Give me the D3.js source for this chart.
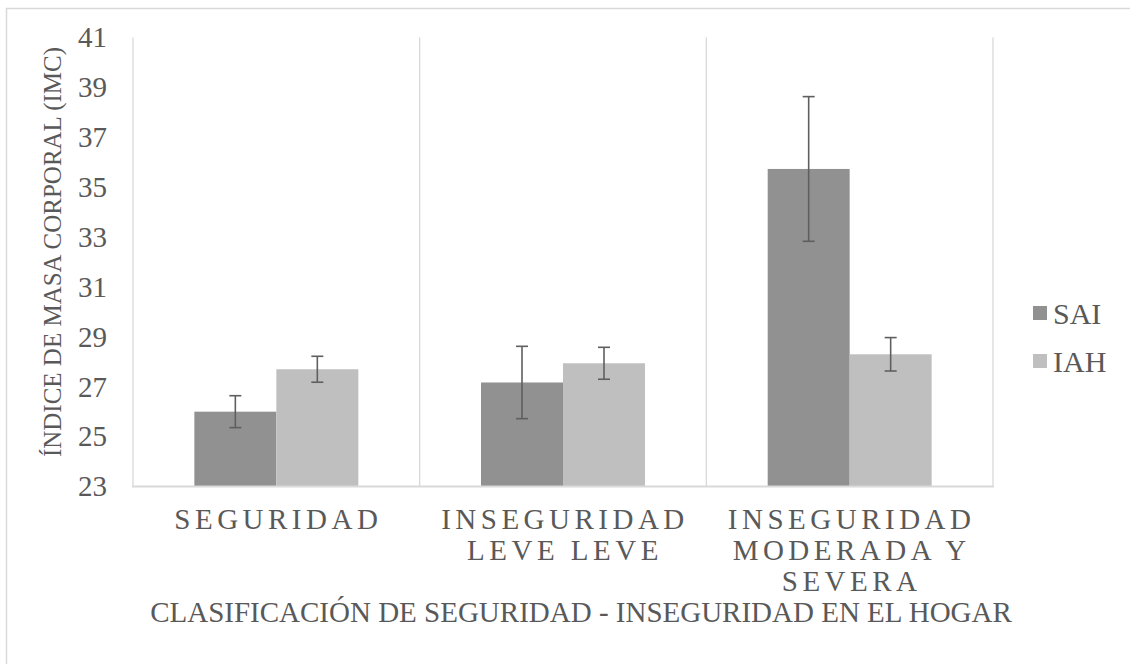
<!DOCTYPE html>
<html lang="es">
<head>
<meta charset="utf-8">
<script src="https://cdn.jsdelivr.net/npm/d3@7"></script>
<style>
  html, body { margin: 0; padding: 0; background: #ffffff; }
  svg { display: block; }
  svg text { font-family: "Liberation Serif", "DejaVu Serif", "Times New Roman", serif; }
</style>
</head>
<body>
<svg id="chart" width="1130" height="664"></svg>
<script>
// Household food security classification vs. body mass index
const categories = ["SEGURIDAD", "INSEGURIDAD LEVE LEVE", "INSEGURIDAD MODERADA Y SEVERA"];
const categoryLines = [["SEGURIDAD"], ["INSEGURIDAD", "LEVE LEVE"], ["INSEGURIDAD", "MODERADA Y", "SEVERA"]];
const seriesNames = ["SAI", "IAH"];
const saiValues = [26.0, 27.17, 35.73];
const saiErrors = [0.64, 1.45, 2.9];
const iahValues = [27.7, 27.94, 28.3];
const iahErrors = [0.52, 0.64, 0.67];
const yTicks = [23, 25, 27, 29, 31, 33, 35, 37, 39, 41];
const yTitle = "ÍNDICE DE MASA CORPORAL (IMC)";
const xTitle = "CLASIFICACIÓN DE SEGURIDAD - INSEGURIDAD EN EL HOGAR";

const colors = { SAI: "#919191", IAH: "#bfbfbf" };
const textColor = "#595959";
const lineColor = "#d9d9d9";
const serif = '"Liberation Serif", "DejaVu Serif", "Times New Roman", serif';

const svg = d3.select("#chart");

// Outer chart frame
svg.append("rect")
  .attr("x", 6.5).attr("y", 8.5)
  .attr("width", 1140).attr("height", 680)
  .attr("fill", "none").attr("stroke", lineColor).attr("stroke-width", 1.5);

const plot = { left: 133, right: 993, top: 37.5, bottom: 486.5 };

const y = d3.scaleLinear().domain([23, 41]).range([plot.bottom, plot.top]);

const inner = 0.428;
const x0 = d3.scaleBand().domain(categories)
  .range([plot.left, plot.right])
  .paddingInner(inner).paddingOuter(inner / 2);
const x1 = d3.scaleBand().domain(seriesNames).range([0, x0.bandwidth()]);

const rows = categories.map((c, i) => ({
  category: c,
  bars: [
    { series: "SAI", value: saiValues[i], err: saiErrors[i] },
    { series: "IAH", value: iahValues[i], err: iahErrors[i] }
  ]
}));

// Category separators (vertical gridlines at band boundaries)
const step = x0.step();
const boundaries = categories.map(c => x0(c) - step * inner / 2);
boundaries.push(plot.right);
svg.append("g").selectAll("line").data(boundaries).join("line")
  .attr("x1", d => d).attr("x2", d => d)
  .attr("y1", plot.top).attr("y2", plot.bottom)
  .attr("stroke", lineColor).attr("stroke-width", 1.3);

// Bars
const groups = svg.append("g").selectAll("g").data(rows).join("g")
  .attr("transform", d => `translate(${x0(d.category)},0)`);

groups.selectAll("rect").data(d => d.bars).join("rect")
  .attr("x", d => x1(d.series))
  .attr("y", d => y(d.value))
  .attr("width", x1.bandwidth())
  .attr("height", d => y(23) - y(d.value))
  .attr("fill", d => colors[d.series]);

// Error bars
const errG = groups.selectAll("g.err").data(d => d.bars).join("g").attr("class", "err");
const cx = d => x1(d.series) + x1.bandwidth() / 2;
errG.append("line")
  .attr("x1", cx).attr("x2", cx)
  .attr("y1", d => y(d.value + d.err)).attr("y2", d => y(d.value - d.err))
  .attr("stroke", "#5f5f5f").attr("stroke-width", 1.6);
errG.append("line")
  .attr("x1", d => cx(d) - 6).attr("x2", d => cx(d) + 6)
  .attr("y1", d => y(d.value + d.err)).attr("y2", d => y(d.value + d.err))
  .attr("stroke", "#5f5f5f").attr("stroke-width", 1.6);
errG.append("line")
  .attr("x1", d => cx(d) - 6).attr("x2", d => cx(d) + 6)
  .attr("y1", d => y(d.value - d.err)).attr("y2", d => y(d.value - d.err))
  .attr("stroke", "#5f5f5f").attr("stroke-width", 1.6);

// Horizontal category axis line
svg.append("line")
  .attr("x1", plot.left - 1).attr("x2", plot.right + 1)
  .attr("y1", plot.bottom).attr("y2", plot.bottom)
  .attr("stroke", lineColor).attr("stroke-width", 2);

// Value axis labels
const yAxis = d3.axisLeft(y).tickValues(yTicks).tickSize(0).tickPadding(0).tickFormat(d3.format("d"));
const yAxisG = svg.append("g").attr("transform", "translate(107,0)").call(yAxis)
  .attr("font-family", serif).attr("font-size", 29);
yAxisG.select(".domain").remove();
yAxisG.selectAll("text")
  .attr("fill", textColor)
  .style("font-size", "29px");

// Category labels
const catLabels = svg.append("g").selectAll("text").data(rows).join("text")
  .attr("text-anchor", "middle")
  .attr("fill", textColor)
  .style("font-size", "29px")
  .style("letter-spacing", "4.5px");
catLabels.each(function (d, i) {
  const t = d3.select(this);
  const xc = x0(d.category) + x0.bandwidth() / 2 + 2;
  categoryLines[i].forEach((line, j) => {
    t.append("tspan").attr("x", xc).attr("y", 529 + j * 31).text(line);
  });
});

// Axis titles
svg.append("text")
  .attr("x", 581).attr("y", 622)
  .attr("text-anchor", "middle")
  .attr("fill", textColor)
  .style("font-size", "29px")
  .text(xTitle);

svg.append("text")
  .attr("transform", "translate(61,252) rotate(-90)")
  .attr("text-anchor", "middle")
  .attr("fill", textColor)
  .style("font-size", "25px")
  .text(yTitle);

// Legend
const legend = svg.append("g").selectAll("g").data(seriesNames).join("g")
  .attr("transform", (d, i) => `translate(1033,${306 + i * 48})`);
legend.append("rect").attr("width", 14).attr("height", 14).attr("fill", d => colors[d]);
legend.append("text")
  .attr("x", 20).attr("y", 7).attr("dy", "0.35em")
  .attr("fill", textColor)
  .style("font-size", "30px")
  .text(d => d);
</script>
</body>
</html>
